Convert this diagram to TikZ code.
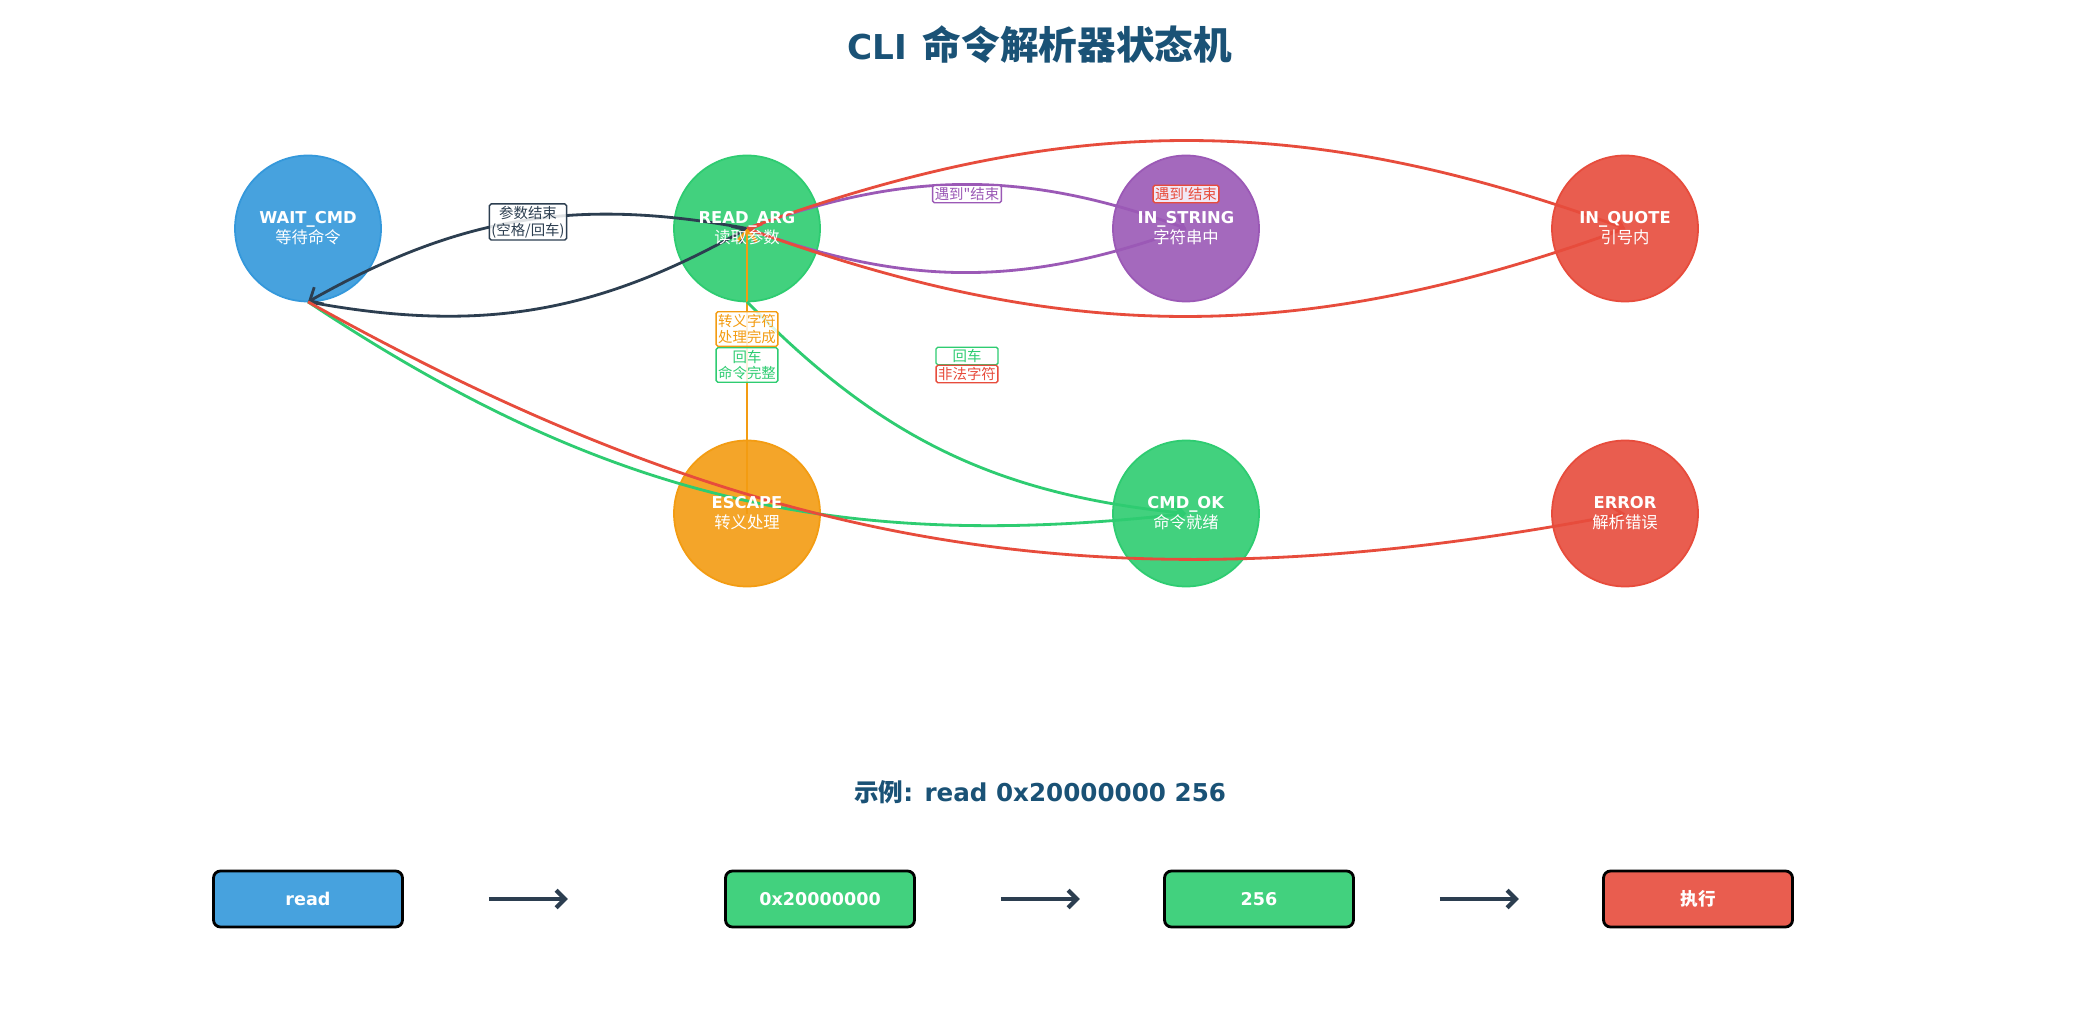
\documentclass[tikz,border=0pt]{standalone}
\usepackage{fontspec}
\setmainfont{DejaVu Sans}
\newfontfamily\cjk[Ligatures=TeXOff]{Noto Sans CJK SC}
\usepackage{xcolor}
\usepackage{tikz}
\usetikzlibrary{positioning,arrows.meta,calc}
\definecolor{cblue}{HTML}{3498DB}
\definecolor{cgreen}{HTML}{2ECC71}
\definecolor{cpurple}{HTML}{9B59B6}
\definecolor{cred}{HTML}{E74C3C}
\definecolor{corange}{HTML}{F39C12}
\definecolor{cdark}{HTML}{2C3E50}
\definecolor{ctitle}{HTML}{1A5276}
\pgfdeclarelayer{background}
\pgfdeclarelayer{edges}
\pgfsetlayers{background,edges,main}
\tikzset{
stnode/.style={
circle,
minimum size=2.92cm,
inner sep=0pt,
align=center,
text=white,
font=\fontsize{9.3}{11.4}\selectfont
},
edgelbl/.style={
draw=#1,
text=#1,
fill=white,
fill opacity=0.85,
text opacity=1,
rounded corners=1pt,
line width=0.8pt,
inner sep=1.2pt,
align=center,
font=\cjk\fontsize{8.2}{9.6}\selectfont
},
arrow/.style={
draw=#1,
line width=1.6pt,
-{Straight Barb[length=6pt,width=11pt]}
},
cmdbox/.style={
draw=black,
fill=#1,
fill opacity=0.9,
text opacity=1,
text=white,
line width=1.6pt,
rounded corners=4pt,
minimum width=3.78cm,
minimum height=1.12cm,
font=\bfseries\fontsize{10}{12}\selectfont
},
flow/.style={
draw=cdark,
line width=2.4pt,
-{Straight Barb[length=5pt,width=10pt]}
}
}
\begin{document}
\begin{tikzpicture}[node distance=5.7cm and 8.78cm,on grid]
\useasboundingbox(0,0)rectangle(41.6,20.6);
\node[font=\bfseries\fontsize{19.5}{22}\selectfont,text=ctitle](title)at(20.8,19.7){CLI\hspace{0.45em}{\cjk\fontsize{22}{23}\selectfont 命令解析器状态机}};

% states
\node[stnode](wait)at(6.16,16.03){\textbf{WAIT\_CMD}\\{\cjk 等待命令}};
\node[stnode,right=of wait](read){\textbf{READ\_ARG}\\{\cjk 读取参数}};
\node[stnode,right=of read](str){\textbf{IN\_STRING}\\{\cjk 字符串中}};
\node[stnode,right=of str](quote){\textbf{IN\_QUOTE}\\{\cjk 引号内}};
\node[stnode,below=of read](esc){\textbf{ESCAPE}\\{\cjk 转义处理}};
\node[stnode,below=of str](ok){\textbf{CMD\_OK}\\{\cjk 命令就绪}};
\node[stnode,below=of quote](err){\textbf{ERROR}\\{\cjk 解析错误}};

\begin{pgfonlayer}{background}
\fill[white](0,0)rectangle(41.6,20.6);
\foreach \n/\c in {wait/cblue,read/cgreen,str/cpurple,quote/cred,esc/corange,ok/cgreen,err/cred}
\filldraw[draw=\c,fill=\c,fill opacity=0.9,line width=1pt](\n.center)circle(1.46cm);
\end{pgfonlayer}

% transitions
\begin{pgfonlayer}{edges}
\draw[arrow=cdark](read.center)to[bend right=20](wait.south);
\draw[arrow=cdark](wait.south)to[bend right=20](read.center);
\draw[arrow=cpurple](read.center)to[bend left=20](str.center);
\draw[arrow=cpurple](str.center)to[bend left=20](read.center);
\draw[arrow=cred](read.center)to[bend left=20](quote.center);
\draw[arrow=cred](quote.center)to[bend left=20](read.center);
\draw[arrow=corange](esc.center)--(read.center);
\draw[arrow=cgreen](read.south)to[bend right=20](ok.center);
\draw[arrow=cgreen](wait.south)to[bend right=20](ok.center);
\draw[arrow=cred](wait.south)to[bend right=20](err.center);
\end{pgfonlayer}

\node[edgelbl=cdark](lend)at(10.56,16.16){参数结束\\(空格/回车)};
\node[edgelbl=cpurple](ldq)at(19.34,16.72){遇到"结束};
\node[edgelbl=cred](lsq)at(23.72,16.72){遇到'结束};
\node[edgelbl=corange](lesc)at(14.94,14.02){转义字符\\处理完成};
\node[edgelbl=cgreen](lcr)at(14.94,13.30){回车\\命令完整};
\node[edgelbl=cgreen,minimum width=1.24cm](lok)at(19.34,13.48){回车};
\node[edgelbl=cred](lerr)at(19.34,13.12){非法字符};

% example
\node[font=\bfseries\fontsize{14}{16}\selectfont,text=ctitle](example)at(20.8,4.76){{\cjk 示例}: read 0x20000000 256};
\node[cmdbox=cblue](b1)at(6.16,2.62){read};
\node[cmdbox=cgreen](b2)at(16.4,2.62){0x20000000};
\node[cmdbox=cgreen,right=8.78cm of b2](b3){256};
\node[cmdbox=cred,right=8.78cm of b3](b4){{\cjk 执行}};
\foreach \b in {b1,b2,b3}
\draw[flow]([xshift=1.7cm]\b.east)--([xshift=3.28cm]\b.east);
\end{tikzpicture}
\end{document}
